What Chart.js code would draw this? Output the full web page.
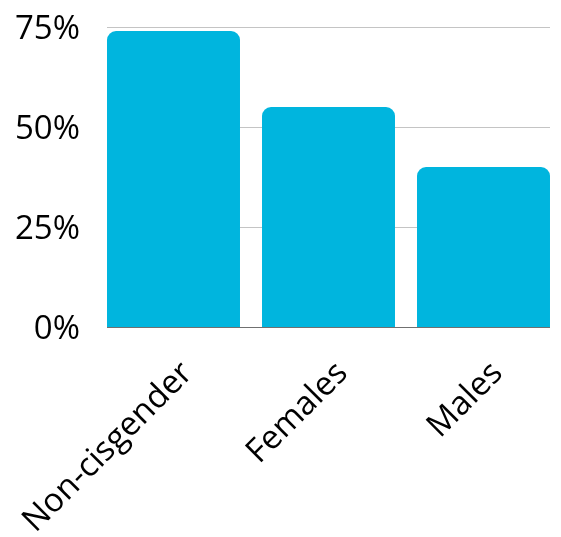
<!DOCTYPE html>
<html>
<head>
<meta charset="utf-8">
<script src="https://cdn.jsdelivr.net/npm/chart.js@4"></script>
<style>
    html, body { margin: 0; padding: 0; background: #fff; }
    #wrap { width: 561px; height: 537px; }
</style>
</head>
<body>
<div id="wrap"><canvas id="chart"></canvas></div>
<script>
// Chart data
const categories = ['Non-cisgender', 'Females', 'Males'];
const shares = [74, 55, 40];
const yTicks = [0, 25, 50, 75];

// Horizontal grid lines and baseline, inset from the plot edges like the original
const gridInset = 11;
const gridLines = {
    id: 'gridLines',
    beforeDatasetsDraw(chart) {
        const { ctx, chartArea, scales } = chart;
        ctx.save();
        ctx.lineWidth = 1;
        yTicks.forEach(v => {
            const y = Math.round(scales.y.getPixelForValue(v)) + 0.5;
            ctx.strokeStyle = v === 0 ? '#707070' : '#c4c4c4';
            ctx.beginPath();
            ctx.moveTo(chartArea.left + gridInset, y);
            ctx.lineTo(chartArea.right - gridInset, y);
            ctx.stroke();
        });
        ctx.restore();
    },
};

const ctx = document.getElementById('chart').getContext('2d');

new Chart(ctx, {
    type: 'bar',
    data: {
        labels: categories,
        datasets: [{
            data: shares,
            backgroundColor: '#00b5de',
            borderRadius: { topLeft: 9, topRight: 9 },
            borderSkipped: 'bottom',
            barPercentage: 0.858,
            categoryPercentage: 1,
        }],
    },
    options: {
        responsive: true,
        maintainAspectRatio: false,
        animation: false,
        layout: { padding: { top: 27, right: 0, left: 0, bottom: 0 } },
        plugins: {
            legend: { display: false },
            tooltip: { enabled: false },
        },
        scales: {
            x: {
                grid: { display: false },
                border: { display: false },
                afterFit: (axis) => {
                    axis.height = 210;
                    axis.paddingLeft = 0;
                    axis.paddingRight = 0;
                },
                ticks: {
                    color: '#000',
                    font: { family: "'Open Sans'", size: 33 },
                    maxRotation: 45,
                    minRotation: 45,
                    padding: 19,
                    labelOffset: 14,
                },
            },
            y: {
                min: 0,
                max: 75,
                afterBuildTicks: (axis) => {
                    axis.ticks = yTicks.map(v => ({ value: v }));
                },
                afterFit: (axis) => {
                    axis.width = 96;
                    axis.paddingTop = 0;
                    axis.paddingBottom = 0;
                },
                grid: { display: false },
                border: { display: false },
                ticks: {
                    color: '#000',
                    font: { family: "'Open Sans'", size: 33 },
                    padding: 8,
                    labelOffset: 3,
                    callback: (val) => val + '%',
                },
            },
        },
    },
    plugins: [gridLines],
});
</script>
</body>
</html>
